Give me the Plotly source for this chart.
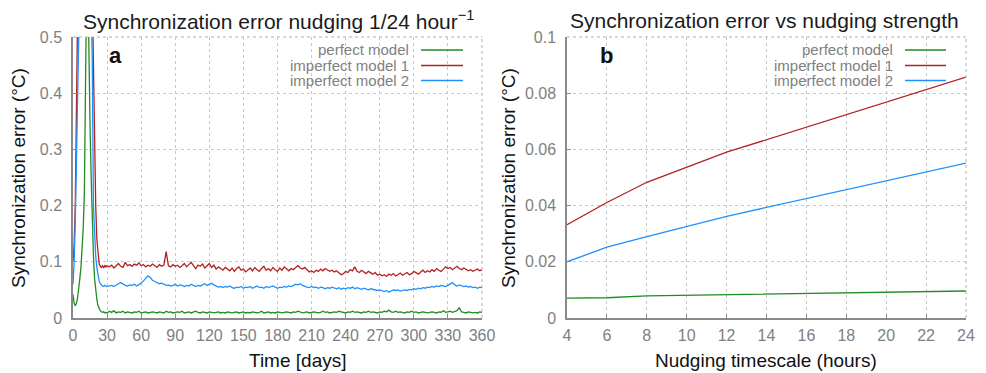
import plotly.graph_objects as go

# ---------------- data: panel a (time series) ----------------
days = list(range(0, 31)) + list(range(32, 361, 2))

perfect_a = [
    0.042, 0.026, 0.022, 0.026, 0.035, 0.05, 0.07, 0.09, 0.12, 0.16,
    0.22, 0.38, 0.6, 0.62, 0.46, 0.34, 0.25, 0.17, 0.11, 0.07,
    0.048, 0.033, 0.022, 0.016, 0.013, 0.011, 0.01, 0.011, 0.009, 0.01, 0.009,
    0.012, 0.01, 0.013, 0.009, 0.011, 0.01, 0.012, 0.009, 0.011, 0.01,
    0.009, 0.011, 0.01, 0.012, 0.009, 0.01, 0.011, 0.009, 0.01, 0.011,
    0.01, 0.009, 0.011, 0.01, 0.009, 0.012, 0.01, 0.011, 0.009, 0.01,
    0.011, 0.01, 0.012, 0.009, 0.01, 0.011, 0.009, 0.01, 0.012, 0.01,
    0.009, 0.011, 0.01, 0.009, 0.011, 0.01, 0.009, 0.01, 0.011, 0.009,
    0.01, 0.009, 0.011, 0.01, 0.009, 0.01, 0.011, 0.009, 0.01, 0.011,
    0.009, 0.01, 0.009, 0.011, 0.01, 0.009, 0.01, 0.012, 0.009, 0.01,
    0.011, 0.009, 0.01, 0.009, 0.011, 0.01, 0.009, 0.01, 0.011, 0.01,
    0.009, 0.011, 0.01, 0.012, 0.01, 0.009, 0.01, 0.011, 0.009, 0.01,
    0.011, 0.01, 0.009, 0.01, 0.012, 0.01, 0.011, 0.009, 0.01, 0.011,
    0.01, 0.012, 0.011, 0.01, 0.009, 0.011, 0.01, 0.012, 0.01, 0.011,
    0.01, 0.009, 0.011, 0.01, 0.012, 0.01, 0.011, 0.01, 0.009, 0.011,
    0.01, 0.012, 0.011, 0.014, 0.011, 0.01, 0.012, 0.01, 0.011, 0.01,
    0.009, 0.011, 0.01, 0.012, 0.01, 0.011, 0.009, 0.01, 0.011, 0.01,
    0.009, 0.01, 0.011, 0.01, 0.009, 0.011, 0.01, 0.013, 0.01, 0.011,
    0.012, 0.01, 0.011, 0.013, 0.018, 0.011, 0.01, 0.009, 0.011, 0.01,
    0.009, 0.01, 0.009, 0.011, 0.01,
]

imperfect1_a = [
    0.10, 0.13, 0.2, 0.35, 0.5, 0.7, 0.9, 1.1, 1.3, 1.4,
    1.4, 1.3, 1.2, 1.1, 0.95, 0.85, 0.72, 0.58, 0.45, 0.3,
    0.2, 0.14, 0.11, 0.097, 0.092, 0.09, 0.093, 0.089, 0.094, 0.091, 0.093,
    0.091, 0.094, 0.089, 0.093, 0.097, 0.092, 0.09, 0.099, 0.093, 0.095,
    0.092, 0.096, 0.094, 0.098, 0.093, 0.095, 0.091, 0.094, 0.092, 0.096,
    0.093, 0.09, 0.095, 0.092, 0.094, 0.118, 0.093, 0.091, 0.095, 0.092,
    0.094, 0.09, 0.093, 0.097, 0.091, 0.095, 0.099, 0.093, 0.088, 0.094,
    0.092, 0.096, 0.089, 0.093, 0.097, 0.09, 0.094, 0.087, 0.091, 0.088,
    0.085, 0.09, 0.087, 0.084, 0.089, 0.083, 0.088, 0.091, 0.085, 0.087,
    0.082, 0.086, 0.089, 0.084, 0.09, 0.086, 0.083, 0.088, 0.092, 0.085,
    0.088, 0.084, 0.09, 0.086, 0.083, 0.089, 0.085, 0.091, 0.087, 0.084,
    0.088, 0.086, 0.09, 0.093, 0.089, 0.087, 0.09, 0.085, 0.082, 0.084,
    0.081, 0.085, 0.083, 0.087, 0.084, 0.088, 0.086, 0.083, 0.085, 0.082,
    0.084, 0.08, 0.077, 0.079, 0.083, 0.081, 0.086, 0.084, 0.091, 0.083,
    0.081, 0.085, 0.082, 0.079, 0.083, 0.08, 0.078, 0.081, 0.076, 0.078,
    0.075, 0.077, 0.074, 0.078, 0.076, 0.079, 0.075, 0.077, 0.08, 0.076,
    0.078, 0.081, 0.077, 0.079, 0.083, 0.08, 0.078, 0.082, 0.085, 0.081,
    0.084, 0.082, 0.086, 0.083, 0.088, 0.085, 0.083, 0.087, 0.091, 0.088,
    0.09, 0.086, 0.089, 0.092, 0.088, 0.086, 0.089, 0.087, 0.084, 0.086,
    0.083, 0.085, 0.087, 0.084, 0.086,
]

imperfect2_a = [
    0.06, 0.1, 0.17, 0.27, 0.38, 0.48, 0.6, 0.8, 1.0, 1.1,
    1.15, 1.1, 1.0, 0.9, 0.8, 0.7, 0.6, 0.45, 0.2, 0.14,
    0.11, 0.09, 0.075, 0.066, 0.061, 0.058, 0.057, 0.056, 0.058, 0.057, 0.056,
    0.057, 0.058, 0.056, 0.059, 0.061, 0.063, 0.06, 0.058, 0.057, 0.059,
    0.058, 0.06, 0.057, 0.059, 0.062, 0.066, 0.071, 0.075, 0.072, 0.067,
    0.065, 0.063, 0.061, 0.062, 0.06, 0.058, 0.059, 0.057, 0.058, 0.06,
    0.057, 0.059, 0.058, 0.056, 0.058, 0.057, 0.06, 0.058, 0.056, 0.058,
    0.057, 0.059, 0.061, 0.058, 0.06, 0.062, 0.059, 0.057, 0.055, 0.056,
    0.054, 0.056, 0.055, 0.057, 0.054, 0.053, 0.055, 0.054, 0.056, 0.053,
    0.055, 0.054, 0.056, 0.053, 0.055, 0.057, 0.054, 0.055, 0.053, 0.056,
    0.054, 0.055, 0.057, 0.055, 0.053, 0.055, 0.054, 0.056, 0.055, 0.057,
    0.056, 0.058, 0.06, 0.059, 0.061, 0.058, 0.056, 0.055, 0.054, 0.056,
    0.054, 0.055, 0.053, 0.055, 0.054, 0.052, 0.054, 0.053, 0.055, 0.053,
    0.052, 0.054, 0.051, 0.053, 0.052, 0.054, 0.053, 0.055, 0.052, 0.054,
    0.053, 0.051, 0.053, 0.052, 0.05, 0.052, 0.051, 0.05, 0.049, 0.05,
    0.048, 0.047, 0.049, 0.046, 0.048, 0.05, 0.049, 0.05, 0.048, 0.049,
    0.05, 0.049, 0.051, 0.05, 0.052, 0.051, 0.053, 0.052, 0.054, 0.053,
    0.055, 0.054, 0.056, 0.055, 0.057, 0.056, 0.058, 0.057, 0.056, 0.058,
    0.061, 0.063, 0.059, 0.057, 0.059, 0.058, 0.056, 0.057, 0.055, 0.056,
    0.054, 0.055, 0.053, 0.055, 0.054,
]

# ---------------- data: panel b (vs nudging timescale) ----------------
hours = [4, 6, 8, 12, 24]
perfect_b = [0.0071, 0.0072, 0.0079, 0.0083, 0.0096]
imperfect1_b = [0.0332, 0.0411, 0.0483, 0.0590, 0.0857]
imperfect2_b = [0.0200, 0.0252, 0.0290, 0.0362, 0.0551]

series_names = ["perfect model", "imperfect model 1", "imperfect model 2"]
colors = ["#228b22", "#b22222", "#1e90ff"]

W, H = 986, 373
FONT = "Liberation Sans"
GRAY = "#808080"

fig = go.Figure()
for vals, name, c in zip([perfect_a, imperfect1_a, imperfect2_a], series_names, colors):
    fig.add_trace(go.Scatter(x=days, y=vals, mode="lines", name=name,
                             line=dict(color=c, width=1.3), xaxis="x", yaxis="y",
                             showlegend=False))
for vals, name, c in zip([perfect_b, imperfect1_b, imperfect2_b], series_names, colors):
    fig.add_trace(go.Scatter(x=hours, y=vals, mode="lines", name=name,
                             line=dict(color=c, width=1.3), xaxis="x2", yaxis="y2",
                             showlegend=False))

def px_x(p):
    return p / W

def px_y(p):
    return 1 - p / H

ydom = [px_y(318), px_y(37)]
axis_common = dict(
    showline=True, linecolor="#8a8a8a", linewidth=1.5, mirror=False,
    showgrid=True, gridcolor="#c8c8c8", griddash="dot", gridwidth=1,
    ticks="inside", ticklen=4, tickcolor="#8a8a8a", tickwidth=1,
    tickfont=dict(family=FONT, size=16, color=GRAY),
    zeroline=False, fixedrange=True, automargin=False,
)

fig.update_layout(
    width=W, height=H,
    margin=dict(l=0, r=0, t=0, b=0, autoexpand=False),
    paper_bgcolor="white", plot_bgcolor="white",
    xaxis=dict(domain=[px_x(73), px_x(482)], range=[0, 360], tickvals=list(range(0, 361, 30)),
               anchor="y", ticklabelstandoff=2, **axis_common),
    yaxis=dict(domain=ydom, range=[0, 0.5], tickvals=[0, 0.1, 0.2, 0.3, 0.4, 0.5],
               ticktext=["0", "0.1", "0.2", "0.3", "0.4", "0.5"], anchor="x",
               ticklabelstandoff=6, **axis_common),
    xaxis2=dict(domain=[px_x(567), px_x(966)], range=[4, 24], tickvals=list(range(4, 25, 2)),
                anchor="y2", ticklabelstandoff=2, **axis_common),
    yaxis2=dict(domain=ydom, range=[0, 0.1], tickvals=[0, 0.02, 0.04, 0.06, 0.08, 0.1],
                ticktext=["0", "0.02", "0.04", "0.06", "0.08", "0.1"], anchor="x2",
                ticklabelstandoff=6, **axis_common),
    showlegend=False,
)

shapes = []
# dotted top / right borders
for xr, yr in [("x domain", "y domain"), ("x2 domain", "y2 domain")]:
    shapes.append(dict(type="line", xref=xr, yref=yr, x0=0, x1=1, y0=1, y1=1,
                       line=dict(color="#b0b0b0", width=1, dash="dot")))
    shapes.append(dict(type="line", xref=xr, yref=yr, x0=1, x1=1, y0=0, y1=1,
                       line=dict(color="#b0b0b0", width=1, dash="dot")))

annotations = []
# legends (text right-aligned, sample line on the right)
leg_rows = [50, 65.5, 80.5]
for (txt_right, l0, l1) in [(411, 421, 463), (895, 905, 946)]:
    for name, c, yy in zip(series_names, colors, leg_rows):
        annotations.append(dict(text=name, xref="paper", yref="paper", x=px_x(txt_right), y=px_y(yy),
                                xanchor="right", yanchor="middle", showarrow=False,
                                font=dict(family=FONT, size=15, color=GRAY)))
        shapes.append(dict(type="line", xref="paper", yref="paper", x0=px_x(l0), x1=px_x(l1),
                           y0=px_y(yy), y1=px_y(yy), line=dict(color=c, width=1.3)))

# titles
annotations.append(dict(text="Synchronization error nudging 1/24 hour<sup>−1</sup>", xref="paper", yref="paper",
                        x=px_x(279), y=px_y(20), xanchor="center", yanchor="middle", showarrow=False,
                        font=dict(family=FONT, size=21, color="#1a1a1a")))
annotations.append(dict(text="Synchronization error vs nudging strength", xref="paper", yref="paper",
                        x=px_x(764), y=px_y(20), xanchor="center", yanchor="middle", showarrow=False,
                        font=dict(family=FONT, size=21, color="#1a1a1a")))
# panel labels
annotations.append(dict(text="<b>a</b>", xref="paper", yref="paper", x=px_x(115), y=px_y(56),
                        xanchor="center", yanchor="middle", showarrow=False,
                        font=dict(family=FONT, size=22, color="#111")))
annotations.append(dict(text="<b>b</b>", xref="paper", yref="paper", x=px_x(606), y=px_y(56),
                        xanchor="center", yanchor="middle", showarrow=False,
                        font=dict(family=FONT, size=22, color="#111")))
# axis titles
annotations.append(dict(text="Time [days]", xref="paper", yref="paper", x=px_x(298), y=px_y(360),
                        xanchor="center", yanchor="middle", showarrow=False,
                        font=dict(family=FONT, size=19, color="#111")))
annotations.append(dict(text="Nudging timescale (hours)", xref="paper", yref="paper", x=px_x(766), y=px_y(360),
                        xanchor="center", yanchor="middle", showarrow=False,
                        font=dict(family=FONT, size=19, color="#111")))
for xx in [18, 508]:
    annotations.append(dict(text="Synchronization error (°C)", xref="paper", yref="paper", x=px_x(xx),
                            y=px_y(178), xanchor="center", yanchor="middle", textangle=-90, showarrow=False,
                            font=dict(family=FONT, size=19, color="#111")))

fig.update_layout(shapes=shapes, annotations=annotations)
fig.write_html("out.html")
